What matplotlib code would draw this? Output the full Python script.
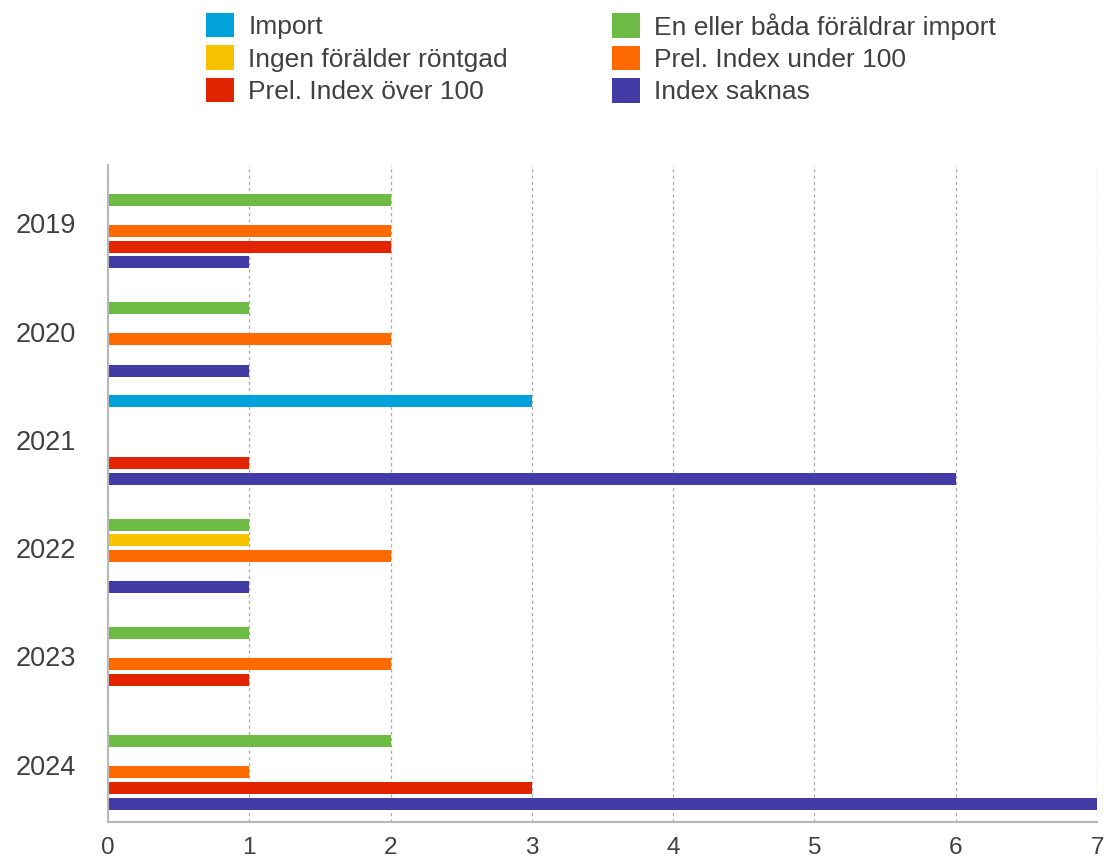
import numpy as np
import matplotlib.pyplot as plt

plt.rcParams['font.family'] = ['Liberation Sans', 'DejaVu Sans']

years = ["2019", "2020", "2021", "2022", "2023", "2024"]
series = ["Import", "En eller båda föräldrar import", "Ingen förälder röntgad",
          "Prel. Index under 100", "Prel. Index över 100", "Index saknas"]
colors = ["#00a2d9", "#6dbb45", "#f7c300", "#ff6a00", "#e22500", "#433ca6"]

# one list per series, values per year
import_ = [0, 0, 3, 0, 0, 0]
en_eller_bada = [2, 1, 0, 1, 1, 2]
ingen_rontgad = [0, 0, 0, 1, 0, 0]
prel_under_100 = [2, 2, 0, 2, 2, 1]
prel_over_100 = [2, 0, 1, 0, 1, 3]
index_saknas = [1, 1, 6, 1, 0, 7]
values = [import_, en_eller_bada, ingen_rontgad, prel_under_100, prel_over_100, index_saknas]

text_color = "#404040"

fig = plt.figure(figsize=(11.07, 8.63), dpi=100)
W, H = 1107, 863
ax = fig.add_axes([108 / W, 1 - 822 / H, (1097 - 108) / W, (822 - 165) / H])

pos = np.arange(len(years))
step = 0.144
bar_h = 0.111
handles = []
for i, (name, vals, c) in enumerate(zip(series, values, colors)):
    b = ax.barh(pos + (i - 2.5) * step, vals, height=bar_h, color=c, label=name, zorder=3)
    handles.append(b)

ax.set_xlim(0, 7)
ax.set_ylim(5.53, -0.54)
ax.set_yticks(pos, years)
ax.set_xticks(range(0, 8))

ax.grid(axis='x', color='#a8a8a8', linestyle=(0, (2.5, 2.5)), linewidth=0.9, zorder=0)
ax.grid(axis='y', visible=False)
for s in ['top', 'right']:
    ax.spines[s].set_visible(False)
for s in ['left', 'bottom']:
    ax.spines[s].set_color('#b8b8b8')
    ax.spines[s].set_linewidth(1.5)
    ax.spines[s].set_zorder(4)

ax.tick_params(axis='y', length=0, pad=23, labelsize=19.5, labelcolor=text_color)
ax.tick_params(axis='x', length=0, pad=10.5, labelsize=17.5, labelcolor=text_color)

leg_kw = dict(loc='upper left', frameon=False, fontsize=19, borderpad=0, borderaxespad=0,
              handlelength=1.05, handleheight=1.05, handletextpad=0.55, labelspacing=0.23,
              labelcolor=text_color)
left_col = [0, 2, 4]
right_col = [1, 3, 5]
l1 = fig.legend([handles[i] for i in left_col], [series[i] for i in left_col],
                bbox_to_anchor=(206 / W, 1 - 13 / H), **leg_kw)
l2 = fig.legend([handles[i] for i in right_col], [series[i] for i in right_col],
                bbox_to_anchor=(612 / W, 1 - 13 / H), **leg_kw)

plt.savefig('out.png', dpi=100)
